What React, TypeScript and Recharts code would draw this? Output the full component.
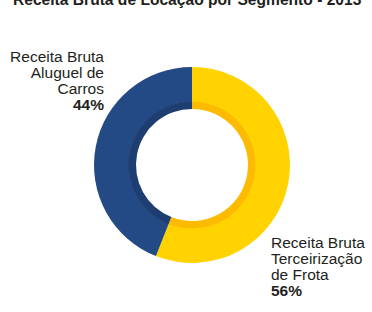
import { PieChart, Pie, Cell } from "recharts";

const segments = ["Receita Bruta Terceirização de Frota", "Receita Bruta Aluguel de Carros"];
const shares = [56, 44];
const labelLines = [
  ["Receita Bruta", "Terceirização", "de Frota"],
  ["Receita Bruta", "Aluguel de", "Carros"],
];
const title = "Receita Bruta de Locação por Segmento - 2013";

const mainColors = ["#ffd200", "#244a86"];
const bandColors = ["#fcbb00", "#1e3e72"];

const data = segments.map((name, i) => ({ name, value: shares[i] }));

const FONT = "'Liberation Sans', Arial, Helvetica, sans-serif";

function renderLabel(props: any) {
  const { cx, cy, index } = props;
  const lines = labelLines[index];
  const right = index === 1;
  const x = right ? cx - 88 : cx + 79;
  const y0 = right ? cy - 103 : cy + 83;
  return (
    <text
      x={x}
      y={y0}
      textAnchor={right ? "end" : "start"}
      fontFamily={FONT}
      fontSize={15.5}
      fill="#231f20"
    >
      {lines.map((l, i) => (
        <tspan key={i} x={x} y={y0 + i * 16}>
          {l}
        </tspan>
      ))}
      <tspan x={x} y={y0 + lines.length * 16} fontWeight="bold">
        {shares[index]}%
      </tspan>
    </text>
  );
}

export default function App() {
  return (
    <div
      style={{
        position: "absolute",
        left: 0,
        top: 0,
        width: 372,
        height: 312,
        background: "#fff",
        overflow: "hidden",
      }}
    >
      <PieChart width={372} height={312} margin={{ top: 0, right: 0, bottom: 0, left: 0 }}>
        <text x={13} y={5} fontFamily={FONT} fontSize={15.6} fontWeight="bold" fill="#231f20">
          {title}
        </text>
        <Pie
          data={data}
          dataKey="value"
          cx={192}
          cy={165}
          startAngle={90}
          endAngle={-270}
          innerRadius={63}
          outerRadius={98}
          stroke="none"
          label={renderLabel}
          labelLine={false}
          isAnimationActive={false}
        >
          {data.map((d, i) => (
            <Cell key={d.name} fill={mainColors[i]} />
          ))}
        </Pie>
        <Pie
          data={data}
          dataKey="value"
          cx={192}
          cy={165}
          startAngle={90}
          endAngle={-270}
          innerRadius={56}
          outerRadius={63.5}
          stroke="none"
          isAnimationActive={false}
        >
          {data.map((d, i) => (
            <Cell key={d.name} fill={bandColors[i]} />
          ))}
        </Pie>
      </PieChart>
    </div>
  );
}
